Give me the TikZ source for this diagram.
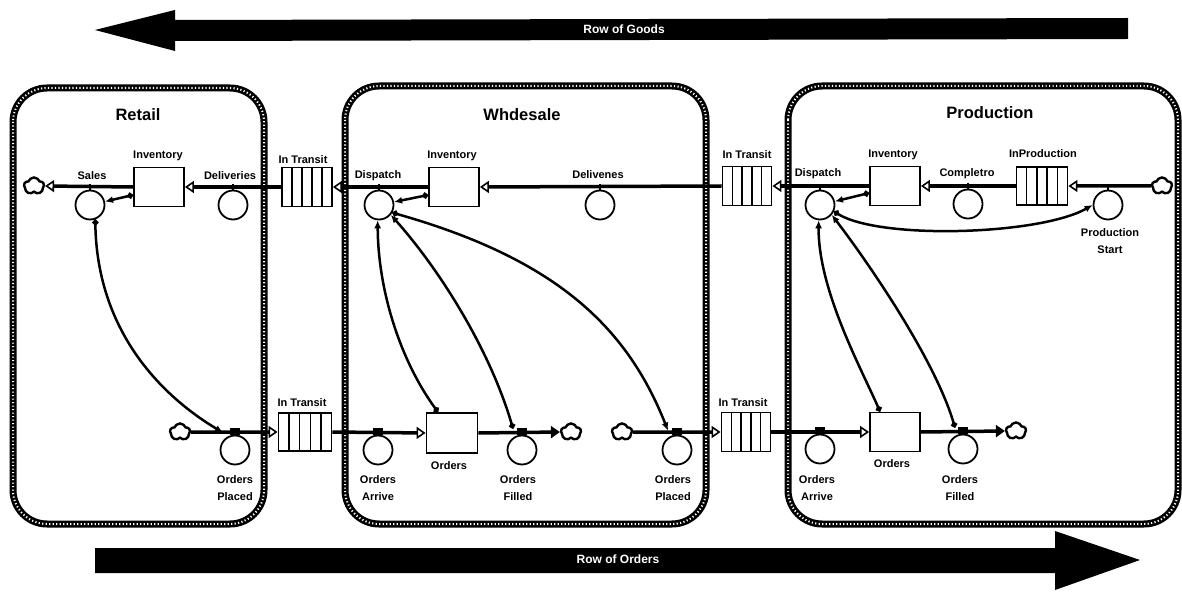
\documentclass[tikz,border=0pt]{standalone}
\usepackage{fontspec}
\setmainfont{Liberation Sans}
\usetikzlibrary{arrows.meta,shapes.symbols,calc}

\begin{document}
\begin{tikzpicture}[x=1pt,y=-1pt,
lbl/.style = {font=\fontsize{11}{16.5}\selectfont\bfseries, inner sep=0pt, align=center},
sectortitle/.style = {font=\fontsize{16.5}{18}\selectfont\bfseries},
stock/.style = {draw, line width=1.8pt, minimum width=50pt, minimum height=39pt, inner sep=0pt},
conv/.style = {stock,
        path picture = {\foreach \k in {1,...,4}
            \draw[line width=1.5pt]
            ($(path picture bounding box.south west)!\k/5!(path picture bounding box.south east)$)
            -- ++(0,-60);}},
valve/.style = {draw, circle, line width=1.8pt, minimum size=29pt, inner sep=0pt},
sink/.style = {cloud, cloud puffs=5, cloud puff arc=140, draw, line width=2.4pt, minimum width=20pt,
        minimum height=17pt, inner sep=0pt},
pipe/.style = {line width=3.5pt, -{Triangle[open, length=9pt, width=12pt, line width=1.6pt]}},
pipeout/.style = {line width=3.5pt, -{Triangle[length=9pt, width=12pt]}},
link/.style = {line width=2.5pt, {Circle[length=6pt]}-{Latex[length=8pt, width=7pt]}},
sector/.style = {line width=7pt, rounded corners=34pt},
beads/.style = {white, line width=2pt, rounded corners=34pt, dash pattern=on 1.2pt off 2.3pt},
arrowtext/.style = {white, font=\fontsize{12}{14}\selectfont\bfseries}]

    \useasboundingbox (0,0) rectangle (1182,601);

    % big arrows
    \fill (1128,18) -- (175,20) -- (175,10) -- (95,30) -- (175,51) -- (175,41) -- (1128,39) -- cycle;
    \node[arrowtext] (goods) at (624,29) {Row of Goods};
    \fill (95,548) -- (1055,548) -- (1055,531) -- (1140,560) -- (1055,590) -- (1055,573) -- (95,573) -- cycle;
    \node[arrowtext] (orders) at (618,559) {Row of Orders};

    % sectors
    \draw[sector] (13,88) rectangle (264,524);
    \draw[beads] (13,88) rectangle (264,524);
    \draw[sector] (345,86) rectangle (706,524);
    \draw[beads] (345,86) rectangle (706,524);
    \draw[sector] (788,86) rectangle (1178,524);
    \draw[beads] (788,86) rectangle (1178,524);
    \node[sectortitle] (retail) at (138,115) {Retail};
    \node[sectortitle] (wholesale) at (522,115) {Whdesale};
    \node[sectortitle] (production) at (990,113) {Production};

    % goods chain
    \node[sink] (sinkRS) at (34,186) {};
    \node[stock] (invR) at (159,187) {};
    \node[conv] (transR) at (307,187) {};
    \node[stock] (invW) at (454,187) {};
    \node[conv, minimum width=49pt] (transP) at (747,186) {};
    \node[stock] (invP) at (895,186) {};
    \node[conv, minimum width=51pt, minimum height=38pt] (prodP) at (1042,186) {};
    \node[sink] (sinkPS) at (1162,186) {};

    \draw[pipe] (invR.west) -- (sinkRS.east);
    \draw[pipe] (transR.west) -- (invR.east);
    \draw[pipe] (invW.west) -- (transR.east);
    \draw[pipe] (transP.west) -- (invW.east);
    \draw[pipe] (invP.west) -- (transP.east);
    \draw[pipe] (prodP.west) -- (invP.east);
    \draw[pipe] (sinkPS.west) -- (prodP.east);

    \node[valve] (salesR) at (90,205) {};
    \node[valve] (delivR) at (233,205) {};
    \node[valve] (dispW) at (379,205) {};
    \node[valve] (delivW) at (600,205) {};
    \node[valve] (dispP) at (820,205) {};
    \node[valve] (complP) at (968,204) {};
    \node[valve] (startP) at (1108,205) {};
    \foreach \v in {salesR,delivR,dispW,delivW,dispP,complP,startP}
        \draw[line width=2pt] (\v.north) -- ++(0,-6);

    % orders chain
    \node[sink] (srcRO) at (180,432) {};
    \node[conv, minimum width=53pt, minimum height=38pt] (transRO) at (305,432) {};
    \node[stock, minimum width=51pt, minimum height=40pt] (ordW) at (452,433) {};
    \node[sink] (sinkWF) at (571,432) {};
    \node[sink] (srcWP) at (622,432) {};
    \node[conv, minimum width=49pt] (transPO) at (746,432) {};
    \node[stock] (ordP) at (895,432) {};
    \node[sink] (sinkPF) at (1016,431) {};

    \draw[pipe] (srcRO.east) -- (transRO.west);
    \draw[pipe] (transRO.east) -- (ordW.west);
    \draw[pipeout] (ordW.east) -- (sinkWF.west);
    \draw[pipe] (srcWP.east) -- (transPO.west);
    \draw[pipe] (transPO.east) -- (ordP.west);
    \draw[pipeout] (ordP.east) -- (sinkPF.west);

    \node[valve] (placedR) at (235,450) {};
    \node[valve] (arriveW) at (378,450) {};
    \node[valve] (filledW) at (522,450) {};
    \node[valve] (placedW) at (677,450) {};
    \node[valve] (arriveP) at (820,449) {};
    \node[valve] (filledP) at (963,449) {};
    \foreach \v in {placedR,arriveW,filledW,placedW,arriveP,filledP}
        \fill ([xshift=-5pt]\v.north) rectangle ++(10,-7);

    % information links
    \draw[link] ([yshift=-8pt]invR.west) -- (salesR);
    \draw[link] (salesR.-70) .. controls (97,330) and (160,395) .. ([xshift=-12pt,yshift=2pt]placedR.north);
    \draw[link] ([yshift=-8pt]invW.west) -- (dispW);
    \draw[link] ([xshift=-14pt]ordW.north) .. controls (400,360) and (378,290) .. (dispW.-95);
    \draw[link] ([xshift=-9pt,yshift=6pt]filledW.north) .. controls (490,350) and (440,270) .. (dispW.-40);
    \draw[link] (dispW.-30) .. controls (560,260) and (628,330) .. ([xshift=-9pt,yshift=4pt]placedW.north);
    \draw[link] ([yshift=-7pt]invP.west) -- (dispP);
    \draw[link] ([xshift=-15pt]ordP.north) .. controls (862,370) and (818,290) .. (dispP.-95);
    \draw[link] ([xshift=-8pt,yshift=6pt]filledP.north) .. controls (935,360) and (870,265) .. (dispP.-40);
    \draw[link] (dispP.-25) .. controls (880,240) and (1040,235) .. (startP.west);

    % labels
    \node[lbl] (lInvR) at (158,156) {Inventory};
    \node[lbl] (lSalesR) at (92,176) {Sales};
    \node[lbl] (lDelivR) at (230,176) {Deliveries};
    \node[lbl] (lTransR) at (303,160) {In Transit};
    \node[lbl] (lTransRO) at (302,403) {In Transit};
    \node[lbl] (lPlacedR) at (235,488) {Orders\\Placed};

    \node[lbl] (lDispW) at (378,176) {Dispatch};
    \node[lbl] (lInvW) at (452,156) {Inventory};
    \node[lbl] (lDelivW) at (598,175) {Delivenes};
    \node[lbl] (lArriveW) at (378,488) {Orders\\Arrive};
    \node[lbl] (lOrdW) at (449,466) {Orders};
    \node[lbl] (lFilledW) at (518,488) {Orders\\Filled};
    \node[lbl] (lPlacedW) at (673,488) {Orders\\Placed};

    \node[lbl] (lTransP) at (747,155) {In Transit};
    \node[lbl] (lDispP) at (818,174) {Dispatch};
    \node[lbl] (lInvP) at (893,155) {Inventory};
    \node[lbl] (lComplP) at (967,174) {Completro};
    \node[lbl] (lProdP) at (1043,154) {InProduction};
    \node[lbl] (lStartP) at (1110,241) {Production\\Start};
    \node[lbl] (lTransPO) at (743,403) {In Transit};
    \node[lbl] (lArriveP) at (817,488) {Orders\\Arrive};
    \node[lbl] (lOrdP) at (892,464) {Orders};
    \node[lbl] (lFilledP) at (960,488) {Orders\\Filled};

\end{tikzpicture}
\end{document}
